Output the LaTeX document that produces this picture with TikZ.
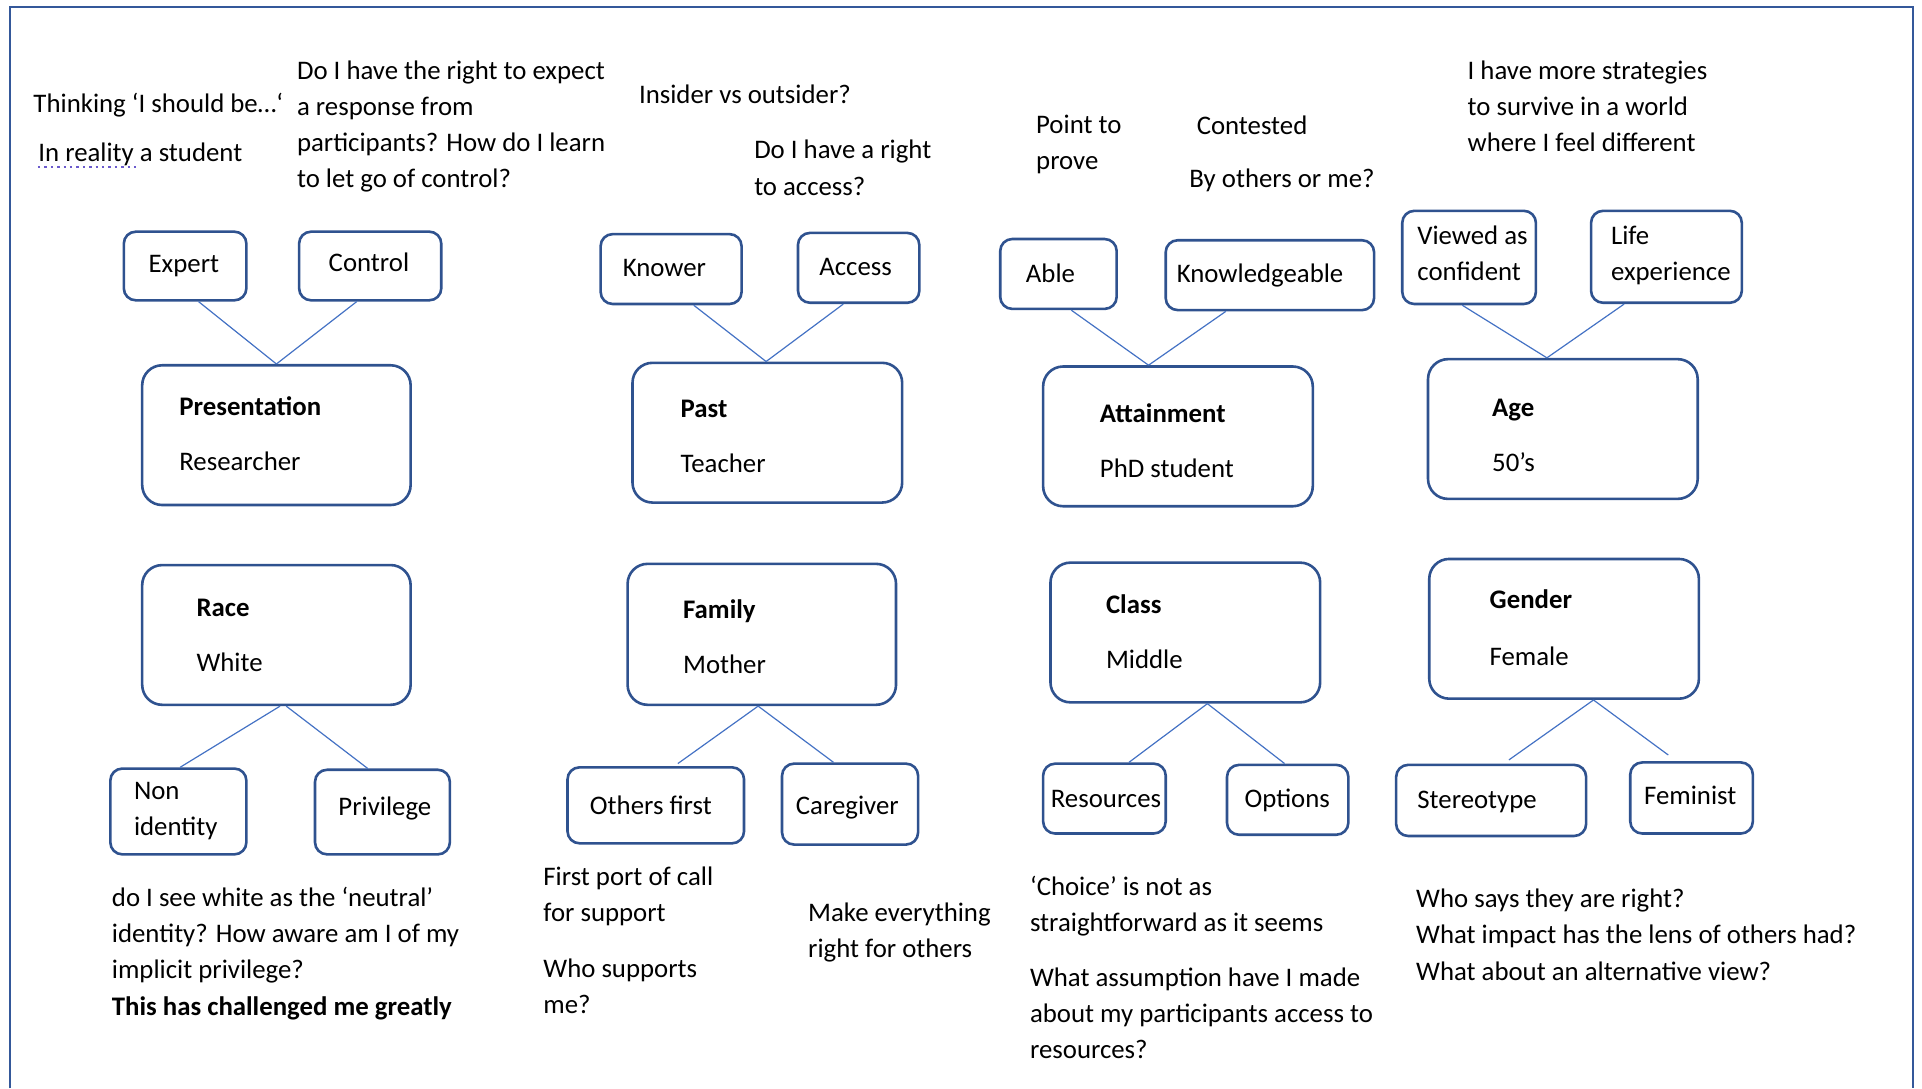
\documentclass[tikz,border=0pt]{standalone}
\usepackage{fontspec}
\setmainfont{Carlito}
\usetikzlibrary{calc,fit}
\definecolor{boxblue}{HTML}{2F528F}
\definecolor{linkblue}{HTML}{4472C4}
\definecolor{frameblue}{HTML}{34589A}
\definecolor{spellblue}{HTML}{6A5ACD}
\begin{document}
% multi-line labels are anchored at the baseline of their last line
\begin{tikzpicture}[x=0.6129pt,y=-0.6129pt,
  txt/.style={anchor=base west, inner sep=0pt, yshift=-1pt, font=\fontsize{13.4}{18.1}\selectfont, align=left},
  ctxt/.style={txt, anchor=base},
  sbox/.style={draw=boxblue, line width=1.3pt, rounded corners=6pt, inner sep=0pt},
  bbox/.style={draw=boxblue, line width=1.3pt, rounded corners=10pt, inner sep=0pt},
  link/.style={draw=linkblue, line width=0.6pt}]
\useasboundingbox (0,0) rectangle (1568,888);
% page frame
\draw[frameblue, line width=1pt] (8,888) -- (8,6) -- (1561,6) -- (1561,888);

% ---- top row of attributes ----
\node[sbox, fit={(101,189) (201,245)}] (expert) {};
\node[sbox, fit={(244,189) (360,245)}] (control) {};
\node[sbox, fit={(490,191) (605,248)}] (knower) {};
\node[sbox, fit={(651,190) (750,247)}] (access) {};
\node[sbox, fit={(816,195) (911,252)}] (able) {};
\node[sbox, fit={(951,196) (1121,253)}] (knowl) {};
\node[sbox, fit={(1144,172) (1253,248)}] (viewed) {};
\node[sbox, fit={(1298,172) (1421,247)}] (life) {};

% ---- identity boxes ----
\node[bbox, fit={(116,298) (335,412)}] (pres) {};
\node[bbox, fit={(516,296) (736,410)}] (past) {};
\node[bbox, fit={(851,299) (1071,413)}] (attain) {};
\node[bbox, fit={(1165,293) (1385,407)}] (age) {};
\node[bbox, fit={(116,461) (335,575)}] (race) {};
\node[bbox, fit={(512,460) (731,575)}] (family) {};
\node[bbox, fit={(857,459) (1077,573)}] (class) {};
\node[bbox, fit={(1166,456) (1386,570)}] (gender) {};

% ---- bottom row of attributes ----
\node[sbox, fit={(90,627) (201,697)}] (nonid) {};
\node[sbox, fit={(257,628) (367,697)}] (priv) {};
\node[sbox, fit={(463,626) (607,688)}] (others) {};
\node[sbox, fit={(638,623) (749,689)}] (care) {};
\node[sbox, fit={(851,623) (951,680)}] (resrc) {};
\node[sbox, fit={(1001,624) (1100,681)}] (options) {};
\node[sbox, fit={(1139,624) (1294,682)}] (stereo) {};
\node[sbox, fit={(1330,622) (1430,680)}] (femin) {};

% ---- connectors ----
\draw[link] ($(expert.south)+(11,0)$) -- (pres.north);
\draw[link] ($(control.south)+(-11,0)$) -- (pres.north);
\draw[link] ($(knower.south)+(18.5,0)$) -- ($(past.north)+(-1,0)$);
\draw[link] ($(access.south)+(-12.5,0)$) -- ($(past.north)+(-1,0)$);
\draw[link] ($(able.south)+(10.5,0)$) -- ($(attain.north)+(-24,0)$);
\draw[link] ($(knowl.south)+(-36,0)$) -- ($(attain.north)+(-24,0)$);
\draw[link] ($(viewed.south)+(-5.5,0)$) -- ($(age.north)+(-13,0)$);
\draw[link] ($(life.south)+(-34.5,0)$) -- ($(age.north)+(-13,0)$);

\draw[link] ($(race.south)+(3,0)$) -- ($(nonid.north)+(1.5,0)$);
\draw[link] ($(race.south)+(8,0)$) -- ($(priv.north)+(-12,0)$);
\draw[link] ($(family.south)+(-3,0)$) -- ($(others.north)+(18,-2)$);
\draw[link] ($(family.south)+(-3,0)$) -- ($(care.north)+(-13.5,0)$);
\draw[link] ($(class.south)+(18,0)$) -- ($(resrc.north)+(20,0)$);
\draw[link] ($(class.south)+(18,0)$) -- ($(options.north)+(-2.5,0)$);
\draw[link] ($(gender.south)+(24,0)$) -- ($(stereo.north)+(14.5,-3)$);
\draw[link] ($(gender.south)+(24,0)$) -- ($(femin.north)+(-19,-5)$);

% ---- box labels ----
\node[ctxt] (lexpert) at (150,221) {Expert};
\node[ctxt] (lcontrol) at (301,220) {Control};
\node[ctxt] (lknower) at (542,224) {Knower};
\node[ctxt] (laccess) at (698,223) {Access};
\node[ctxt] (lable) at (857,229) {Able};
\node[ctxt] (lknowl) at (1028,229) {Knowledgeable};
\node[txt] (lviewed) at (1156,227) {Viewed as\\confident};
\node[txt] (llife) at (1314,227) {Life\\experience};

\node[txt] (tpres) at (146,337) {\textbf{Presentation}};
\node[txt] (spres) at (146,382) {Researcher};
\node[txt] (tpast) at (555,339) {\textbf{Past}};
\node[txt] (spast) at (555,384) {Teacher};
\node[txt] (tattain) at (897,343) {\textbf{Attainment}};
\node[txt] (sattain) at (897,388) {PhD student};
\node[txt] (tage) at (1217,338) {\textbf{Age}};
\node[txt] (sage) at (1217,383) {50’s};
\node[txt] (trace) at (160,501) {\textbf{Race}};
\node[txt] (srace) at (160,546) {White};
\node[txt] (tfamily) at (557,503) {\textbf{Family}};
\node[txt] (sfamily) at (557,548) {Mother};
\node[txt] (tclass) at (902,499) {\textbf{Class}};
\node[txt] (sclass) at (902,544) {Middle};
\node[txt] (tgender) at (1215,495) {\textbf{Gender}};
\node[txt] (sgender) at (1215,541) {Female};

\node[txt] (lnonid) at (109,680) {Non\\identity};
\node[ctxt] (lpriv) at (314,664) {Privilege};
\node[txt] (lothers) at (481,663) {Others first};
\node[txt] (lcare) at (649,663) {Caregiver};
\node[txt] (lresrc) at (857,657) {Resources};
\node[txt] (loptions) at (1015,657) {Options};
\node[txt] (lstereo) at (1156,658) {Stereotype};
\node[txt] (lfemin) at (1341,655) {Feminist};

% ---- reflections above ----
\node[txt] (n1) at (27,90) {Thinking ‘I should be…‘};
\node[txt] (n2) at (31,130) {In reality a student};
\draw[spellblue, line width=1.2pt, dotted] (31,136) -- (112,136);
\node[txt] (n3) at (242,151.5) {Do I have the right to expect\\a response from\\participants? How do I learn\\to let go of control?};
\node[txt] (n4) at (521,83) {Insider vs outsider?};
\node[txt] (n5) at (615,157.5) {Do I have a right\\to access?};
\node[txt] (n6) at (845,136.5) {Point to\\prove};
\node[txt] (n7) at (976,108) {Contested};
\node[txt] (n8) at (970,151) {By others or me?};
\node[txt] (n9) at (1197,122) {I have more strategies\\to survive in a world\\where I feel different};

% ---- reflections below ----
\node[txt] (m1) at (91,826.5) {do I see white as the ‘neutral’\\identity? How aware am I of my\\implicit privilege?\\\textbf{This has challenged me greatly}};
\node[txt] (m2) at (443,750.5) {First port of call\\for support};
\node[txt] (m3) at (443,825) {Who supports\\me?};
\node[txt] (m4) at (659,779.5) {Make everything\\right for others};
\node[txt] (m5) at (840,758.5) {‘Choice’ is not as\\straightforward as it seems};
\node[txt] (m6) at (840,862) {What assumption have I made\\about my participants access to\\resources?};
\node[txt] (m7) at (1155,798) {Who says they are right?\\What impact has the lens of others had?\\What about an alternative view?};
\end{tikzpicture}
\end{document}
